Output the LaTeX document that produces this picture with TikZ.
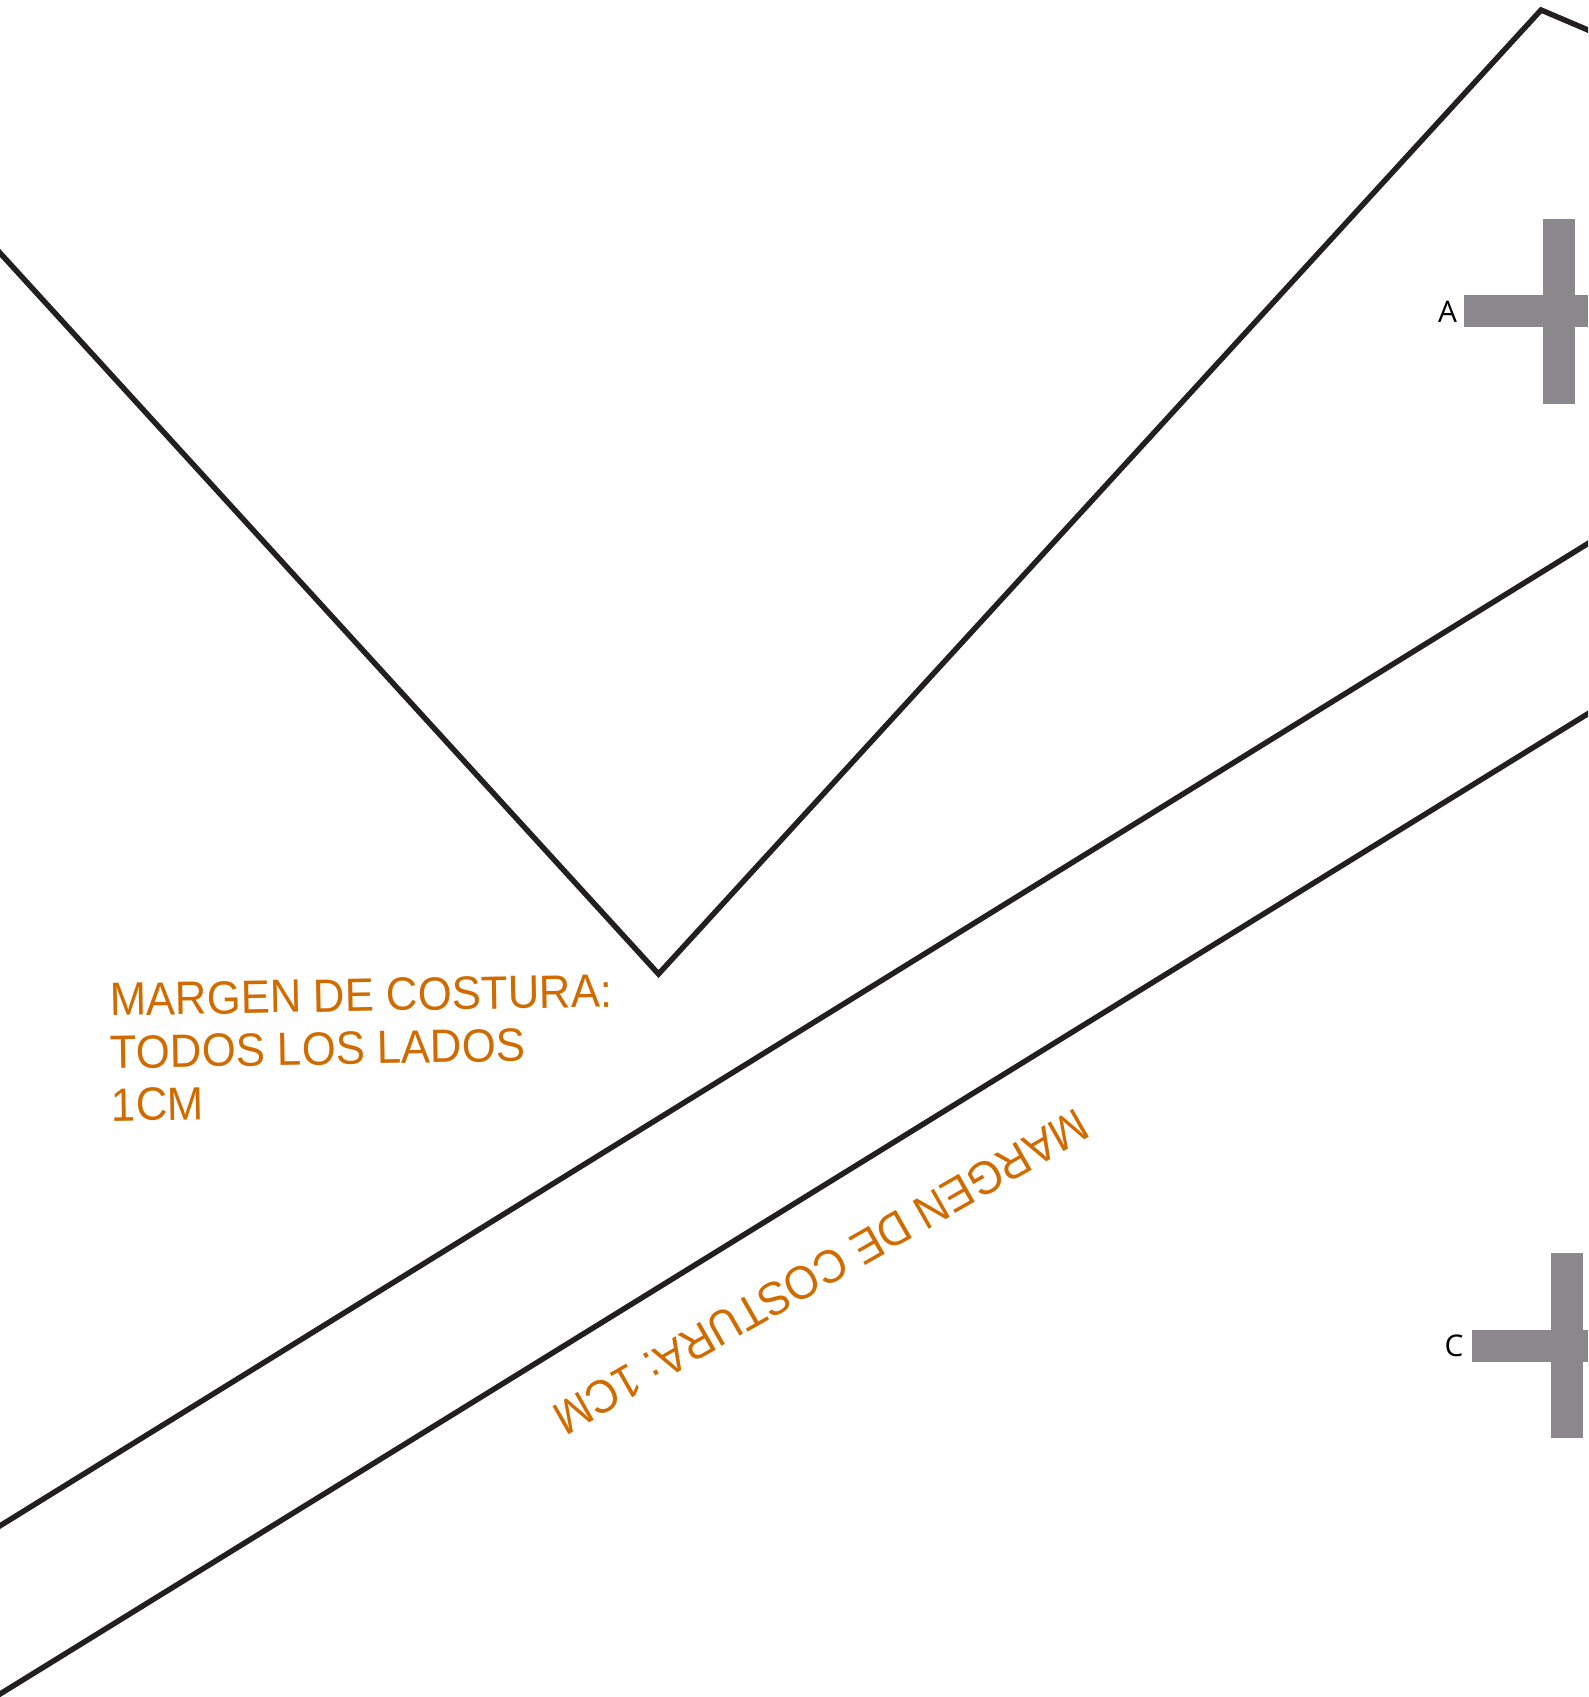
\documentclass[tikz,border=0pt]{standalone}
\usepackage{fontspec}
\setmainfont{Liberation Sans}
\newfontfamily\markfont{Open Sans}
\newfontfamily\notefont[FakeStretch=0.935]{Liberation Sans}
\definecolor{seamline}{HTML}{231F20}
\definecolor{seamtext}{HTML}{D06B00}
\definecolor{markgray}{HTML}{8A888D}
\tikzset{
  cutline/.style={draw=seamline,line width=1.55pt,miter limit=10},
  marker/.style={fill=markgray},
  marklabel/.style={inner sep=0pt,font=\markfont\fontsize{8.5}{10}\selectfont},
  notetext/.style={inner sep=0pt,text=seamtext,font=\notefont\fontsize{13.3}{15}\selectfont}
}

\begin{document}
\begin{tikzpicture}[x=0.1mm,y=-0.1mm]
  \clip (0,0) rectangle (1588,1697);
  % pattern edge
  \coordinate (left) at (-10,242);
  \coordinate (vee) at (658.5,974);
  \coordinate (peak) at (1541,10);
  \coordinate (right) at (1598,34.3);
  \draw[cutline] (left) -- (vee) -- (peak) -- (right);
  % seam margin
  \coordinate (seamAa) at (-10,1532);
  \coordinate (seamAb) at (1598,537.3);
  \coordinate (seamBa) at (-10,1700.2);
  \coordinate (seamBb) at (1598,707.5);
  \draw[cutline] (seamAa) -- (seamAb);
  \draw[cutline] (seamBa) -- (seamBb);
  % markers
  \fill[marker] (1543,219) rectangle (1575,404);
  \fill[marker] (1464,295) rectangle (1588,327);
  \fill[marker] (1551,1253) rectangle (1583,1438);
  \fill[marker] (1472,1330) rectangle (1588,1362);
  \node (labelA) at (1447.5,312) [marklabel] {A};
  \node (labelC) at (1454,1346) [marklabel] {C};
  % notes
  \node (note) at (362,1048) [notetext,align=left,rotate=1] {MARGEN DE COSTURA:\\TODOS LOS LADOS\\1CM};
  \node (margin) at (821,1272) [notetext,rotate=209.7] {MARGEN DE COSTURA: 1CM};
\end{tikzpicture}
\end{document}
